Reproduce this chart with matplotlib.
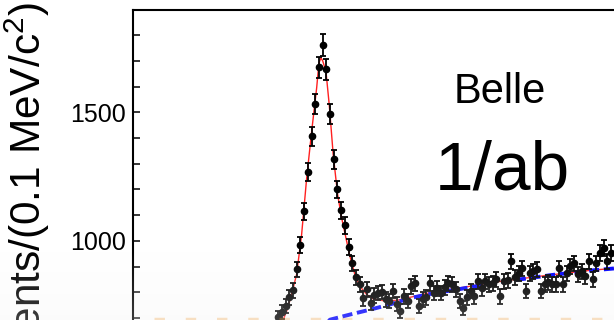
import numpy as np
import matplotlib
matplotlib.use("Agg")
import matplotlib.pyplot as plt

plt.rcParams['font.family'] = ['Liberation Sans', 'DejaVu Sans']
plt.rcParams['mathtext.default'] = 'regular'

# binned data, 0.1 MeV bins
bin_start = 3.95
bin_width = 0.1
counts = [702, 722, 745, 780, 807, 889, 982, 1115, 1267, 1407, 1531, 1675, 1763,
          1667, 1492, 1317, 1200, 1119, 1060, 975, 912, 858, 831, 776, 811, 757, 788, 796, 800, 772,
          765, 804, 753, 726, 784, 765, 823, 835, 745, 772, 780, 835, 796, 815, 796, 819, 835, 831, 811, 765,
          737, 780, 804, 784, 842, 815, 842, 831, 835, 850, 784, 842, 846, 920, 858, 873, 893, 804, 873, 881,
          889, 804, 831, 838, 831, 831, 893, 831, 873, 901, 912, 870, 881, 862, 920, 850, 912, 951, 971, 920, 951]

# total fit
fit_x = [3.942, 4.085, 4.177, 4.312, 4.447, 4.582, 4.718, 4.853, 4.988, 5.050, 5.104, 5.150,
         5.239, 5.328, 5.436, 5.555, 5.664, 5.780, 5.888, 6.023, 6.158, 6.339, 6.518, 6.788,
         7.150, 7.509, 8.050, 8.590, 9.131, 9.672, 10.212, 10.753, 11.293, 11.834, 12.374, 13.023, 14.0]
fit_y = [650, 693, 726, 792, 870, 1025, 1244, 1426, 1595, 1692, 1712, 1701,
         1660, 1530, 1335, 1180, 1089, 1011, 940, 868, 823, 791, 774, 767,
         768, 780, 798, 811, 823, 837, 847, 857, 867, 876, 885, 893, 905]

# background component
bkg_x = [5.077, 5.347, 5.888, 6.428, 6.969, 7.509, 8.050, 8.590, 9.131, 9.672, 10.212,
         10.753, 11.293, 11.834, 12.374, 12.996, 14.0]
bkg_y = [650, 693, 713, 732, 752, 777, 793, 806, 819, 833, 845, 855, 866, 875, 884, 892, 905]

x = bin_start + bin_width * np.arange(len(counts))
y = np.array(counts)
yerr = np.sqrt(y)

fig = plt.figure(figsize=(6.14, 3.2), dpi=100)
ax = fig.add_axes([133 / 614, -0.154, 517 / 614, 1.124])
ax.set_xlim(0.023, 14.0)
ax.set_ylim(500, 1900)

ax.plot(fit_x, fit_y, color='#ff2020', lw=1.0, zorder=2)
ax.plot(bkg_x, bkg_y, color='#0000ff', lw=2.8, dashes=(2.6, 1.2), zorder=3)
ax.errorbar(x, y, yerr=yerr, fmt='o', color='black', ms=4.5, elinewidth=1.3,
            capsize=2.2, capthick=1.3, zorder=4)

for s in ['right', 'bottom']:
    ax.spines[s].set_visible(False)
for s in ['top', 'left']:
    ax.spines[s].set_linewidth(1.5)

ax.set_yticks([1000, 1500])
ax.set_yticks(np.arange(600, 1901, 100), minor=True)
ax.tick_params(axis='y', which='both', direction='in', length=5, width=1.1,
               labelsize=18, pad=5)
ax.tick_params(axis='x', which='both', bottom=False, top=False,
               labelbottom=False)

# y label is clipped by the frame edge, as in the source picture
fig.text(0.045, 0.992, 'Events/(0.1 MeV/c$^{2}$)', rotation=90, ha='center',
         va='top', fontsize=30.5)
fig.text(0.814, 1 - 103 / 320, 'Belle', ha='center', va='baseline', fontsize=30)
fig.text(0.818, 1 - 190 / 320, '1/ab', ha='center', va='baseline', fontsize=50)

# faded strip at the bottom of the frame
over = fig.add_axes([0, 0, 1, 1], zorder=10)
over.axis('off')
h = 320
alpha = np.clip((np.arange(h) - 250) / 70.0, 0, 1) * 0.25
img = np.ones((h, 2, 4))
img[..., :3] = 0.95
img[:, :, 3] = alpha[:, None]
over.imshow(img, extent=[0, 1, 0, 1], origin='upper', aspect='auto')
over.plot([0.25, 0.98], [0.002, 0.002], color='#f0a040', alpha=0.3, lw=2.5,
          dashes=(3, 6))
over.set_xlim(0, 1)
over.set_ylim(0, 1)

fig.savefig('out.png', dpi=100)
